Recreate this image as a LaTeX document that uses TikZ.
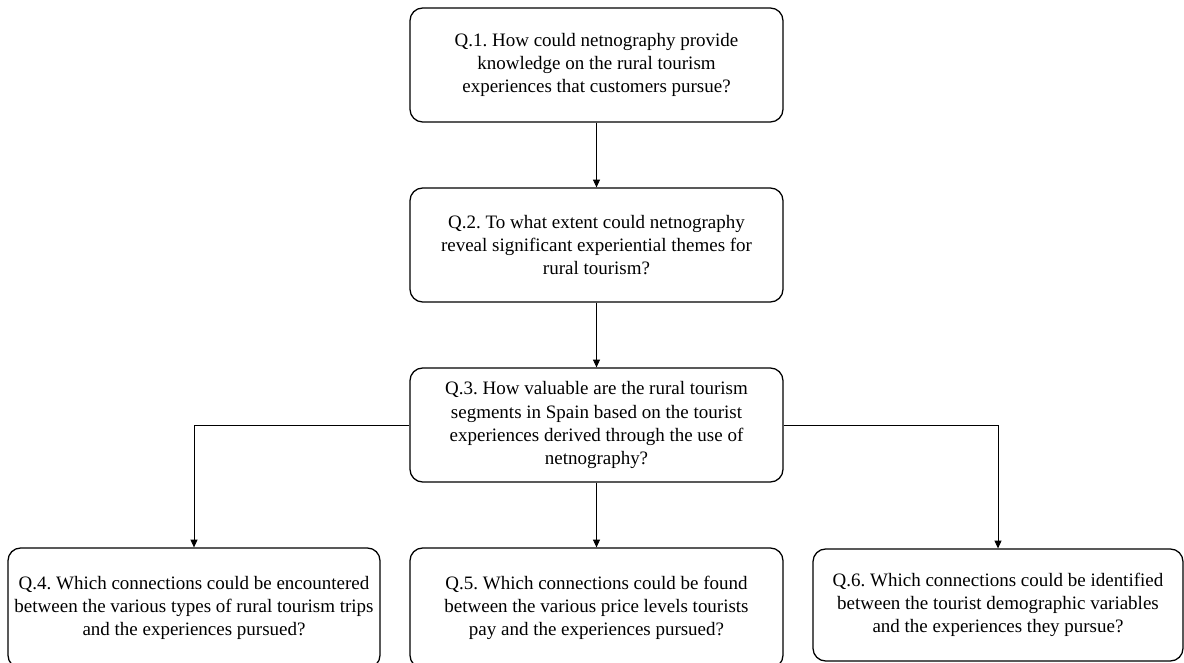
\documentclass[tikz,border=0pt]{standalone}
\usepackage{fontspec}
\setmainfont{Liberation Serif}
\usetikzlibrary{arrows.meta}
\frenchspacing

\tikzset{
  qbox/.style={draw, line width=0.9pt, rounded corners=9pt, align=center,
    minimum width=373*0.025cm, minimum height=114*0.025cm, inner sep=0pt,
    font=\fontsize{13.5}{16.4}\selectfont},
  qlink/.style={line width=0.55pt, -{Triangle[length=5.5pt,width=5pt]}}
}

\begin{document}
\begin{tikzpicture}[x=0.025cm, y=0.025cm]
    \useasboundingbox (0,0) rectangle (1184,663);
    \clip (0,0) rectangle (1184,663);

    \node[qbox] (q1) at (596.5, 598) {Q.1. How could netnography provide\\knowledge on the rural tourism\\experiences that customers pursue?};
    \node[qbox] (q2) at (596.5, 418) {Q.2. To what extent could netnography\\reveal significant experiential themes for\\rural tourism?};
    \node[qbox] (q3) at (596.5, 238) {Q.3. How valuable are the rural tourism\\segments in Spain based on the tourist\\experiences derived through the use of\\netnography?};

    \node[qbox, minimum width=372*0.025cm, minimum height=120*0.025cm] (q4) at (194, 55) {Q.4. Which connections could be encountered\\between the various types of rural tourism trips\\and the experiences pursued?};
    \node[qbox, minimum height=120*0.025cm] (q5) at (596.5, 55) {Q.5. Which connections could be found\\between the various price levels tourists\\pay and the experiences pursued?};
    \node[qbox, minimum width=370*0.025cm, minimum height=112*0.025cm] (q6) at (998, 58) {Q.6. Which connections could be identified\\between the tourist demographic variables\\and the experiences they pursue?};

    \draw[qlink] (q1) -- (q2);
    \draw[qlink] (q2) -- (q3);
    \draw[qlink] (q3) -- (q5);
    \draw[qlink] (q3.west) -| (q4.north);
    \draw[qlink] (q3.east) -| (q6.north);
\end{tikzpicture}
\end{document}
